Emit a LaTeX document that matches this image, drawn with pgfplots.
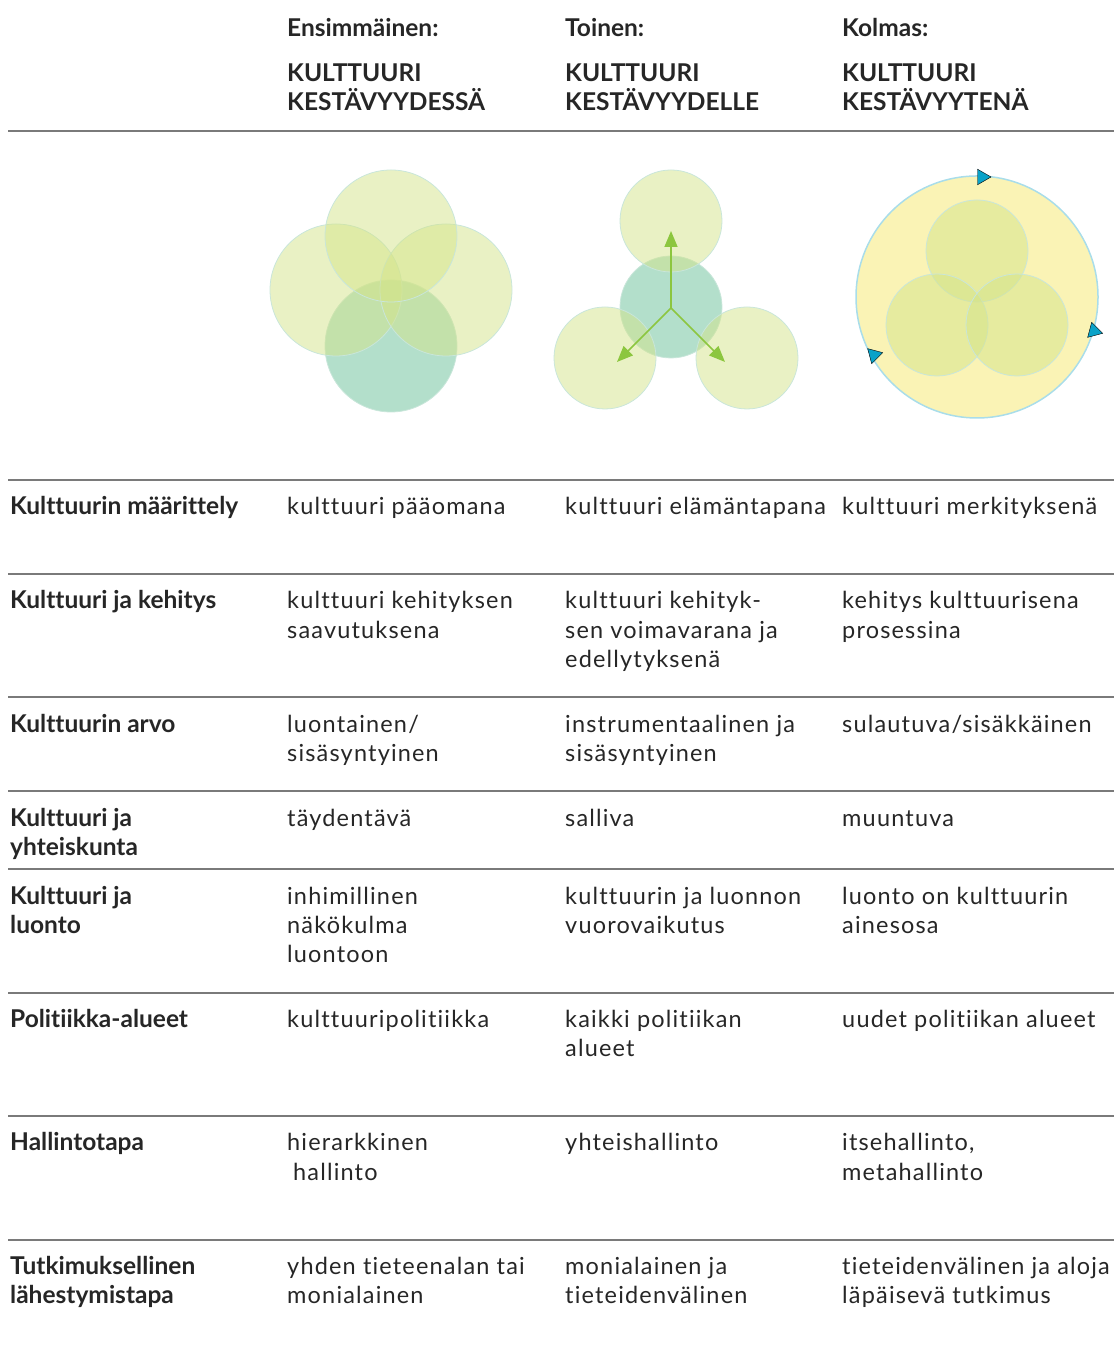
\documentclass[border=0pt]{standalone}
\usepackage{fontspec}
\setmainfont{Lato}
\newfontfamily\body{Lato}[LetterSpace=5,Ligatures={NoCommon}]
\newfontfamily\bold{Lato Bold}[Ligatures={NoCommon}]
\usepackage{pgfplots}
\pgfplotsset{compat=1.18}
\usetikzlibrary{arrows.meta}
\definecolor{txt}{HTML}{262626}
\definecolor{rule}{HTML}{7A7A7A}
\definecolor{yg}{HTML}{D4E48A}
\definecolor{teal}{HTML}{B3DFCB}
\definecolor{cstroke}{HTML}{C9E6DA}
\definecolor{pale}{HTML}{FAF3B5}
\definecolor{cyanline}{HTML}{A9DDEA}
\definecolor{cyanmark}{HTML}{0AA2C8}
\definecolor{arrowg}{HTML}{8CC63F}
\newcommand\B[3]{\node[anchor=base west,inner sep=0pt,yshift=-2pt,text=txt,font=\fontsize{24.5}{28}\bold] at (axis cs:#1,#2) {#3};}
\newcommand\T[3]{\node[anchor=base west,inner sep=0pt,yshift=-2pt,text=txt,font=\fontsize{23.5}{28}\body] at (axis cs:#1,#2) {#3};}
\begin{document}
\begin{tikzpicture}
\begin{axis}[
  set layers,
  scale only axis, width=1114pt, height=1356pt,
  xmin=0, xmax=1114, ymin=0, ymax=1356, y dir=reverse,
  hide axis, clip=false]
\path (axis cs:0,0) rectangle (axis cs:1114,1356);
% rules
\addplot[rule, line width=1.3pt] coordinates {(8,131) (1114,131)};
\addplot[rule, line width=1.3pt] coordinates {(8,480) (1114,480)};
\addplot[rule, line width=1.3pt] coordinates {(8,574) (1114,574)};
\addplot[rule, line width=1.3pt] coordinates {(8,697) (1114,697)};
\addplot[rule, line width=1.3pt] coordinates {(8,791) (1114,791)};
\addplot[rule, line width=1.3pt] coordinates {(8,869) (1114,869)};
\addplot[rule, line width=1.3pt] coordinates {(8,993) (1114,993)};
\addplot[rule, line width=1.3pt] coordinates {(8,1116) (1114,1116)};
\addplot[rule, line width=1.3pt] coordinates {(8,1240) (1114,1240)};
% diagram 1
\addplot[only marks, mark=*, mark size=66, mark options={fill=teal, draw=cstroke, line width=0.8pt}] coordinates {(391,346)};
\addplot[only marks, mark=*, mark size=66, mark options={fill=yg, fill opacity=0.5, draw=cstroke, line width=0.8pt}] coordinates {(336,290) (446,290) (391,236)};
% diagram 2
\addplot[only marks, mark=*, mark size=51, mark options={fill=teal, draw=cstroke, line width=0.8pt}] coordinates {(671,307)};
\addplot[only marks, mark=*, mark size=51, mark options={fill=yg, fill opacity=0.5, draw=cstroke, line width=0.8pt}] coordinates {(671,221) (605,358) (747,358)};
\addplot[on layer=axis foreground, arrowg, line width=1.6pt, -{Triangle[length=16pt,width=13pt]}] coordinates {(671,308) (671,231)};
\addplot[on layer=axis foreground, arrowg, line width=1.6pt, -{Triangle[length=16pt,width=13pt]}] coordinates {(671,308) (617,362)};
\addplot[on layer=axis foreground, arrowg, line width=1.6pt, -{Triangle[length=16pt,width=13pt]}] coordinates {(671,308) (725,362)};
% diagram 3
\addplot[only marks, mark=*, mark size=121, mark options={fill=pale, draw=cyanline, line width=1.5pt}] coordinates {(977,297)};
\addplot[only marks, mark=*, mark size=51, mark options={fill=yg, fill opacity=0.5, draw=cstroke, line width=0.8pt}] coordinates {(977,251) (937,325) (1017,325)};
\addplot[on layer=axis foreground, only marks, mark=triangle*, mark size=9, mark options={fill=cyanmark, draw=none, rotate=-90}] coordinates {(982,177)};
\addplot[on layer=axis foreground, only marks, mark=triangle*, mark size=9, mark options={fill=cyanmark, draw=none, rotate=-105}] coordinates {(1094,331)};
\addplot[on layer=axis foreground, only marks, mark=triangle*, mark size=9, mark options={fill=cyanmark, draw=none, rotate=-75}] coordinates {(874,355)};
% header
\B{287}{35}{Ensimmäinen:}
\B{287}{80}{KULTTUURI}
\B{287}{109}{KESTÄVYYDESSÄ}
\B{565}{35}{Toinen:}
\B{565}{80}{KULTTUURI}
\B{565}{109}{KESTÄVYYDELLE}
\B{842}{35}{Kolmas:}
\B{842}{80}{KULTTUURI}
\B{842}{109}{KESTÄVYYTENÄ}
% row 1
\B{10}{513}{Kulttuurin määrittely}
\T{287}{513}{kulttuuri pääomana}
\T{565}{513}{kulttuuri elämäntapana}
\T{842}{513}{kulttuuri merkityksenä}
% row 2
\B{10}{607}{Kulttuuri ja kehitys}
\T{287}{607}{kulttuuri kehityksen}
\T{287}{637}{saavutuksena}
\T{565}{607}{kulttuuri kehityk-}
\T{565}{637}{sen voimavarana ja}
\T{565}{666}{edellytyksenä}
\T{842}{607}{kehitys kulttuurisena}
\T{842}{637}{prosessina}
% row 3
\B{10}{731}{Kulttuurin arvo}
\T{287}{731}{luontainen/}
\T{287}{760}{sisäsyntyinen}
\T{565}{731}{instrumentaalinen ja}
\T{565}{760}{sisäsyntyinen}
\T{842}{731}{sulautuva/sisäkkäinen}
% row 4
\B{10}{825}{Kulttuuri ja}
\B{10}{854}{yhteiskunta}
\T{287}{825}{täydentävä}
\T{565}{825}{salliva}
\T{842}{825}{muuntuva}
% row 5
\B{10}{903}{Kulttuuri ja}
\B{10}{932}{luonto}
\T{287}{903}{inhimillinen}
\T{287}{932}{näkökulma}
\T{287}{961}{luontoon}
\T{565}{903}{kulttuurin ja luonnon}
\T{565}{932}{vuorovaikutus}
\T{842}{903}{luonto on kulttuurin}
\T{842}{932}{ainesosa}
% row 6
\B{10}{1026}{Politiikka-alueet}
\T{287}{1026}{kulttuuripolitiikka}
\T{565}{1026}{kaikki politiikan}
\T{565}{1055}{alueet}
\T{842}{1026}{uudet politiikan alueet}
% row 7
\B{10}{1149}{Hallintotapa}
\T{287}{1149}{hierarkkinen}
\T{293}{1179}{hallinto}
\T{565}{1149}{yhteishallinto}
\T{842}{1149}{itsehallinto,}
\T{842}{1179}{metahallinto}
% row 8
\B{10}{1273}{Tutkimuksellinen}
\B{10}{1302}{lähestymistapa}
\T{287}{1273}{yhden tieteenalan tai}
\T{287}{1302}{monialainen}
\T{565}{1273}{monialainen ja}
\T{565}{1302}{tieteidenvälinen}
\T{842}{1273}{tieteidenvälinen ja aloja}
\T{842}{1302}{läpäisevä tutkimus}
\end{axis}
\end{tikzpicture}
\end{document}
